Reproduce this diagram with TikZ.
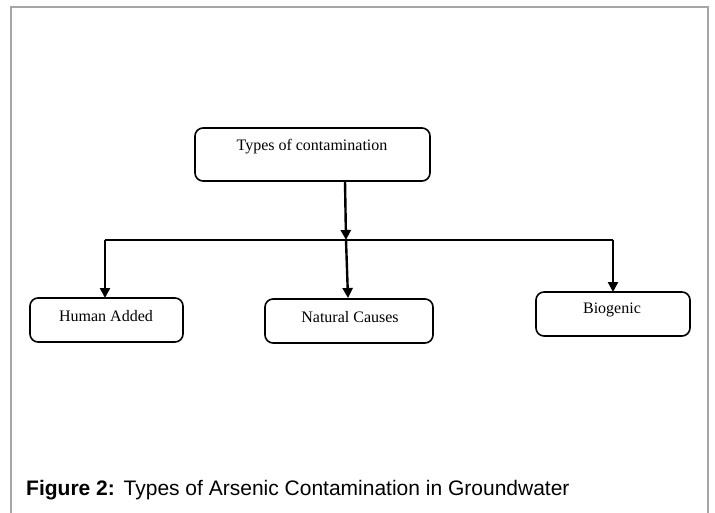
\documentclass[tikz,border=0pt]{standalone}
\usepackage{fontspec}
\setmainfont{Liberation Serif}
\newfontfamily\capfont{Liberation Sans}
\usetikzlibrary{arrows.meta}
\begin{document}
\begin{tikzpicture}[x=1pt,y=-1pt,
  box/.style={draw=black,line width=1.6pt,rounded corners=8pt},
  lbl/.style={font=\fontsize{16}{18}\selectfont,inner sep=0pt},
  conn/.style={line width=2.4pt,-{Triangle[length=10pt,width=10pt]}},
  bar/.style={line width=2.4pt}]
\useasboundingbox (0,0) rectangle (715,513);
\fill[white] (0,0) rectangle (715,513);
\draw[gray!70,line width=1.5pt] (11,513) -- (11,7) -- (708,7) -- (708,513);
% boxes
\draw[box] (195,128) rectangle (430,181);
\node[lbl] (top) at (312,147) {Types of contamination};
\coordinate (topb) at (345,181);
\draw[box] (30,298) rectangle (183,342);
\node[lbl] (ha) at (106,316) {Human Added};
\draw[box] (265,299) rectangle (433,343);
\node[lbl] (nc) at (350,317) {Natural Causes};
\draw[box] (536,292) rectangle (690,336);
\node[lbl] (bio) at (612,310) {Biogenic};
\coordinate (hat) at (105,298);
\coordinate (nct) at (348,298);
\coordinate (biot) at (613,292);
\coordinate (hl) at (105,240);
\coordinate (hr) at (613,240);
\coordinate (mid) at (346,240);
\draw[bar] (hl) -- (hr);
\draw[conn] (topb) -- (mid);
\draw[conn] (mid) -- (nct);
\draw[conn] (hl) -- (hat);
\draw[conn] (hr) -- (biot);
\node[anchor=base west,inner sep=0pt,font=\capfont\fontsize{21}{24}\selectfont] (cap) at (26,495) {\textbf{Figure 2:}\hspace{1pt} Types of Arsenic Contamination in Groundwater};
\end{tikzpicture}
\end{document}
